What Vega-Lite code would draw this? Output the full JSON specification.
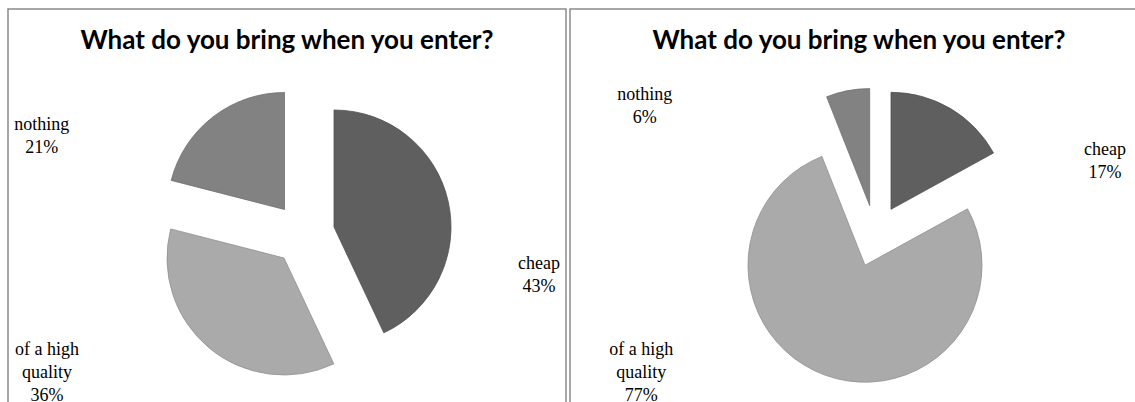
{
  "$schema": "https://vega.github.io/schema/vega-lite/v6.json",
  "padding": {"left": 7, "top": 8, "right": 0, "bottom": 0},
  "spacing": 2,
  "background": "white",
  "config": {
    "view": {"stroke": "#8a8a8a", "strokeWidth": 1.5},
    "title": {"font": "Lato", "fontSize": 26, "fontWeight": "bold", "color": "#000000", "anchor": "middle", "baseline": "alphabetic", "offset": -45}
  },
  "datasets": {
    "left": [
      {"ord": 1, "cat": "cheap", "pct": 43, "label": "cheap\n43%"},
      {"ord": 2, "cat": "of a high quality", "pct": 36, "label": "of a high\nquality\n36%"},
      {"ord": 3, "cat": "nothing", "pct": 21, "label": "nothing\n21%"}
    ],
    "right": [
      {"ord": 1, "cat": "cheap", "pct": 17, "label": "cheap\n17%"},
      {"ord": 2, "cat": "of a high quality", "pct": 77, "label": "of a high\nquality\n77%"},
      {"ord": 3, "cat": "nothing", "pct": 6, "label": "nothing\n6%"}
    ]
  },
  "hconcat": [
    {
      "width": 558,
      "height": 450,
      "title": {"text": "What do you bring when you enter?"},
      "data": {"name": "left"},
      "transform": [{"stack": "pct", "groupby": [], "sort": [{"field": "ord", "order": "ascending"}], "as": ["t0", "t1"]}],
      "encoding": {
        "theta": {"field": "t0", "type": "quantitative", "scale": {"domain": [0, 100], "range": [0, 6.283185307179586]}},
        "theta2": {"field": "t1"},
        "color": {"field": "cat", "type": "nominal", "legend": null, "scale": {"domain": ["cheap", "of a high quality", "nothing"], "range": ["#5f5f5f", "#aaaaaa", "#828282"]}}
      },
      "layer": [
        {"mark": {"type": "point", "opacity": 0}, "encoding": {"x": {"field": "pct", "type": "quantitative", "axis": null}, "y": {"field": "pct", "type": "quantitative", "axis": null}}},
        {"transform": [{"filter": "datum.cat === 'cheap'"}], "mark": {"type": "arc", "outerRadius": 117, "xOffset": 47, "yOffset": -7, "stroke": "#505050", "strokeWidth": 0.8}},
        {"transform": [{"filter": "datum.cat === 'of a high quality'"}], "mark": {"type": "arc", "outerRadius": 117, "xOffset": -3, "yOffset": 24, "stroke": "#909090", "strokeWidth": 0.8}},
        {"transform": [{"filter": "datum.cat === 'nothing'"}], "mark": {"type": "arc", "outerRadius": 117, "xOffset": -2.5, "yOffset": -24.5, "stroke": "#707070", "strokeWidth": 0.8}},
        {"transform": [{"filter": "datum.cat === 'cheap'"}], "mark": {"type": "text", "radius": 120, "dx": 252, "dy": 155, "font": "Liberation Serif", "fontSize": 18, "lineHeight": 23, "lineBreak": "\n", "align": "center", "baseline": "alphabetic"}, "encoding": {"text": {"field": "label"}, "color": {"value": "#000000"}}},
        {"transform": [{"filter": "datum.cat === 'of a high quality'"}], "mark": {"type": "text", "radius": 120, "dx": -291, "dy": 12, "font": "Liberation Serif", "fontSize": 18, "lineHeight": 23, "lineBreak": "\n", "align": "center", "baseline": "alphabetic"}, "encoding": {"text": {"field": "label"}, "color": {"value": "#000000"}}},
        {"transform": [{"filter": "datum.cat === 'nothing'"}], "mark": {"type": "text", "radius": 120, "dx": -129, "dy": -74, "font": "Liberation Serif", "fontSize": 18, "lineHeight": 23, "lineBreak": "\n", "align": "center", "baseline": "alphabetic"}, "encoding": {"text": {"field": "label"}, "color": {"value": "#000000"}}}
      ]
    },
    {
      "width": 578,
      "height": 450,
      "title": {"text": "What do you bring when you enter?"},
      "data": {"name": "right"},
      "transform": [{"stack": "pct", "groupby": [], "sort": [{"field": "ord", "order": "ascending"}], "as": ["t0", "t1"]}],
      "encoding": {
        "theta": {"field": "t0", "type": "quantitative", "scale": {"domain": [0, 100], "range": [0, 6.283185307179586]}},
        "theta2": {"field": "t1"},
        "color": {"field": "cat", "type": "nominal", "legend": null, "scale": {"domain": ["cheap", "of a high quality", "nothing"], "range": ["#5f5f5f", "#aaaaaa", "#828282"]}}
      },
      "layer": [
        {"mark": {"type": "point", "opacity": 0}, "encoding": {"x": {"field": "pct", "type": "quantitative", "axis": null}, "y": {"field": "pct", "type": "quantitative", "axis": null}}},
        {"transform": [{"filter": "datum.cat === 'cheap'"}], "mark": {"type": "arc", "outerRadius": 117, "xOffset": 32, "yOffset": -24.7, "stroke": "#505050", "strokeWidth": 0.8}},
        {"transform": [{"filter": "datum.cat === 'of a high quality'"}], "mark": {"type": "arc", "outerRadius": 117, "xOffset": 6, "yOffset": 31.2, "stroke": "#909090", "strokeWidth": 0.8}},
        {"transform": [{"filter": "datum.cat === 'nothing'"}], "mark": {"type": "arc", "outerRadius": 117, "xOffset": 10.7, "yOffset": -28.4, "stroke": "#707070", "strokeWidth": 0.8}},
        {"transform": [{"filter": "datum.cat === 'cheap'"}], "mark": {"type": "text", "radius": 120, "dx": 246, "dy": 41, "font": "Liberation Serif", "fontSize": 18, "lineHeight": 23, "lineBreak": "\n", "align": "center", "baseline": "alphabetic"}, "encoding": {"text": {"field": "label"}, "color": {"value": "#000000"}}},
        {"transform": [{"filter": "datum.cat === 'of a high quality'"}], "mark": {"type": "text", "radius": 120, "dx": -323, "dy": 179, "font": "Liberation Serif", "fontSize": 18, "lineHeight": 23, "lineBreak": "\n", "align": "center", "baseline": "alphabetic"}, "encoding": {"text": {"field": "label"}, "color": {"value": "#000000"}}},
        {"transform": [{"filter": "datum.cat === 'nothing'"}], "mark": {"type": "text", "radius": 120, "dx": -170, "dy": -22, "font": "Liberation Serif", "fontSize": 18, "lineHeight": 23, "lineBreak": "\n", "align": "center", "baseline": "alphabetic"}, "encoding": {"text": {"field": "label"}, "color": {"value": "#000000"}}}
      ]
    }
  ]
}
